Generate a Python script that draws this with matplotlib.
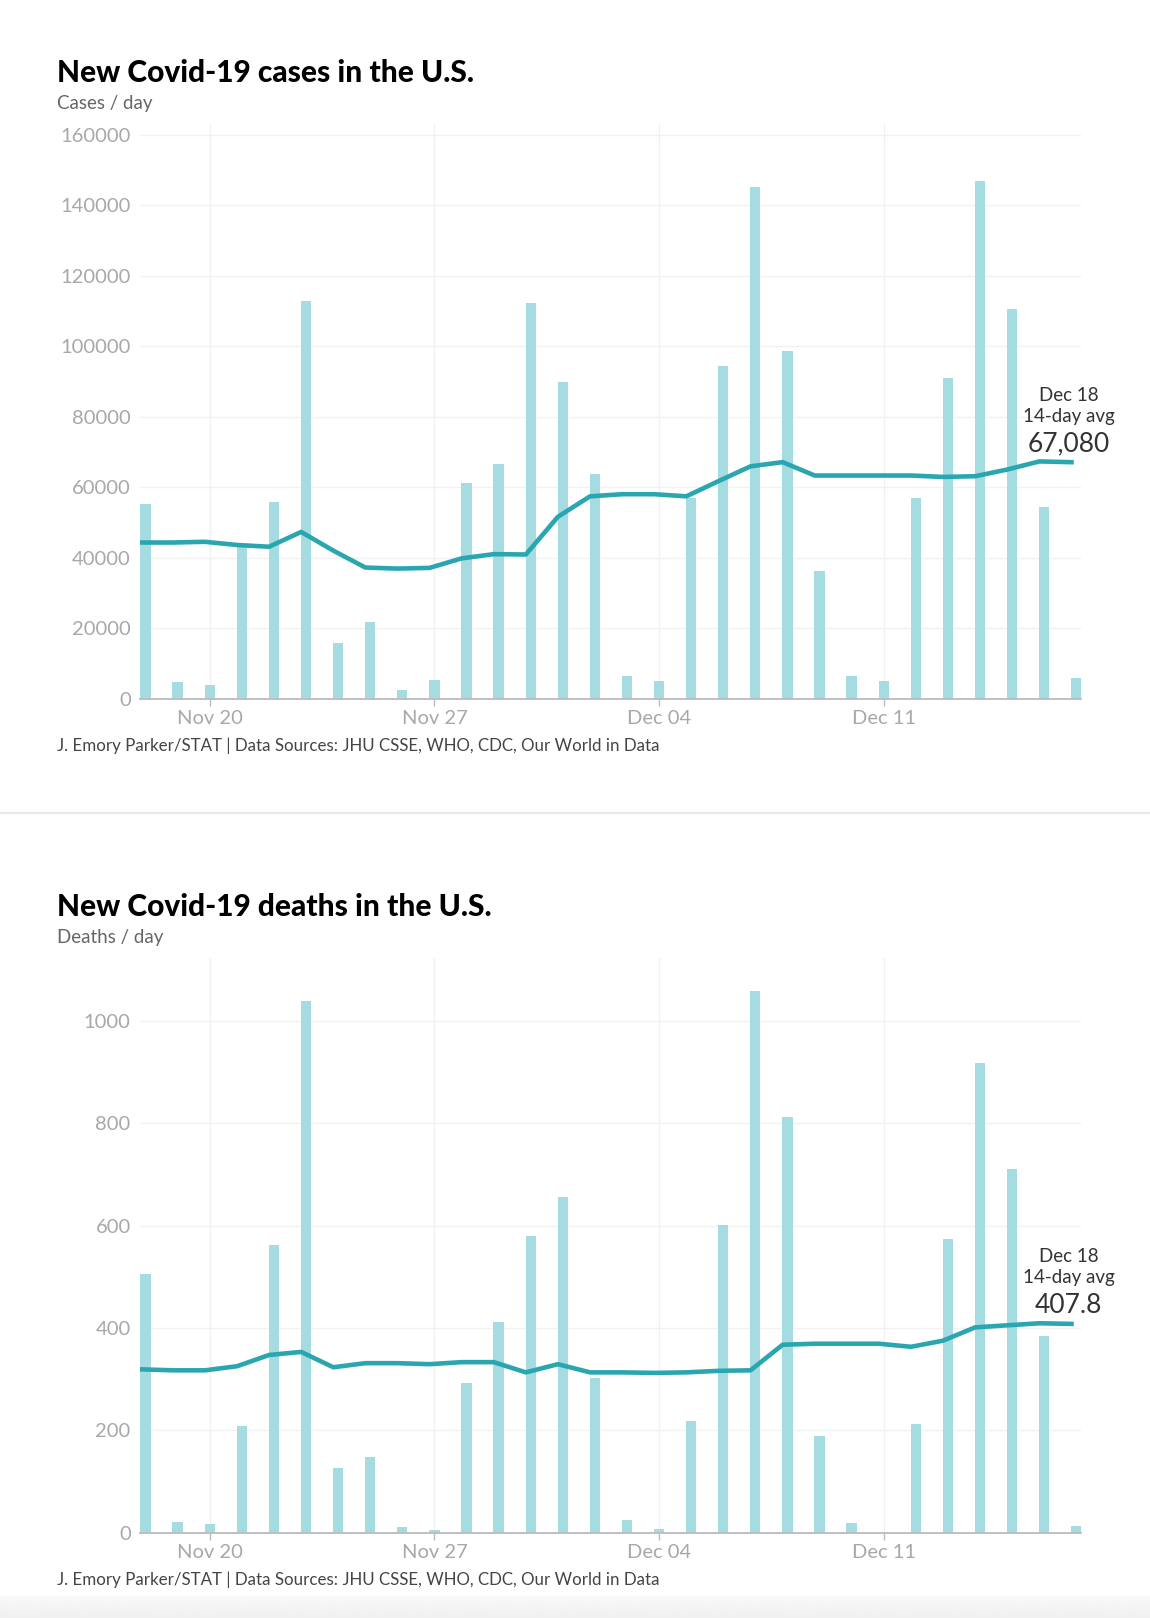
import numpy as np
import pandas as pd
import matplotlib
matplotlib.use("Agg")
import matplotlib.pyplot as plt
from matplotlib.lines import Line2D

plt.rcParams['font.family'] = ['Lato', 'DejaVu Sans']

# days shown on the x axis
dates = pd.date_range("2020-11-18", "2020-12-17")
tick_days = ["2020-11-20", "2020-11-27", "2020-12-04", "2020-12-11"]
last_label = "Dec 18"

# new cases per day and the 14-day average
cases = [55100, 4700, 3800, 43100, 55700, 112800, 15800, 21700, 2600, 5300,
         61200, 66500, 112200, 89700, 63600, 6400, 5000, 56800, 94400, 145000,
         98500, 36300, 6400, 5000, 56800, 91100, 146800, 110500, 54500, 5900]
cases_avg = [44300, 44300, 44500, 43600, 43100, 47300, 42000, 37200, 36900, 37100,
             39800, 41000, 40900, 51600, 57400, 58000, 58000, 57400, 61700, 65900,
             67100, 63300, 63300, 63300, 63300, 62900, 63100, 65000, 67300, 67080]

# new deaths per day and the 14-day average
deaths = [506, 20, 16, 208, 562, 1038, 127, 147, 10, 4,
          292, 411, 579, 655, 302, 24, 6, 217, 601, 1058,
          812, 189, 18, 0, 212, 573, 917, 711, 385, 12]
deaths_avg = [319, 317, 317, 325, 347, 353, 323, 331, 331, 329,
              333, 333, 313, 329, 313, 313, 312, 313, 316, 317,
              367, 369, 369, 369, 363, 375, 401, 405, 409, 407.8]

BAR = "#a5dce2"
LINE = "#2aa6b0"
W, H = 1150, 1618

fig = plt.figure(figsize=(W / 100, H / 100), dpi=100)
fig.patch.set_facecolor("white")


def px(x, y):
    return x / W, 1 - y / H


def panel(top_px, bottom_px, daily, avg, yticks, ytop, title, unit, value_txt):
    l, b = px(140.4, bottom_px)
    _, t = px(0, top_px)
    ax = fig.add_axes([l, b, 941 / W, t - b])
    x = np.arange(len(dates))
    ax.bar(x, daily, width=0.32, color=BAR, zorder=2)
    ax.plot(x - 0.15, avg, color=LINE, lw=3.3, zorder=3, solid_joinstyle="round")
    ax.set_xlim(-0.16, len(dates) - 1 + 0.16)
    ax.set_ylim(0, ytop)
    ticks = dates.get_indexer(pd.to_datetime(tick_days))
    ax.set_xticks(ticks)
    ax.set_xticklabels(dates[ticks].strftime("%b %d"))
    ax.set_yticks(yticks)
    ax.set_yticklabels([str(v) for v in yticks])
    ax.tick_params(axis="y", length=0, pad=7, labelsize=14.5, labelcolor="#a8a8a8")
    ax.tick_params(axis="x", length=5, width=1, color="#bbbbbb", pad=3,
                   labelsize=14.5, labelcolor="#a8a8a8")
    ax.grid(True, color="#f1f1f1", lw=1, zorder=0)
    for s in ["top", "right", "left"]:
        ax.spines[s].set_visible(False)
    ax.spines["bottom"].set_color("#bbbbbb")
    ax.spines["bottom"].set_linewidth(1.3)
    ax.set_axisbelow(True)

    ex, ey = x[-1] - 0.15, avg[-1]
    ax.annotate(value_txt, (ex, ey), xytext=(-3, 18), textcoords="offset pixels",
                ha="center", va="center", fontsize=19, color="#333333")
    ax.annotate("14-day avg", (ex, ey), xytext=(-3, 46), textcoords="offset pixels",
                ha="center", va="center", fontsize=13.5, color="#333333")
    ax.annotate(last_label, (ex, ey), xytext=(-3, 67), textcoords="offset pixels",
                ha="center", va="center", fontsize=13.5, color="#333333")

    tx, ty = px(57, top_px - 42)
    fig.text(tx, ty, title, fontsize=21.5, fontweight="black", color="black",
             va="baseline")
    sx, sy = px(57, top_px - 15)
    fig.text(sx, sy, unit, fontsize=13.5, color="#666666", va="baseline")
    fx, fy = px(57, bottom_px + 47)
    fig.text(fx, fy, "J. Emory Parker/STAT | Data Sources: JHU CSSE, WHO, CDC, Our World in Data",
             fontsize=12.2, color="#444444", va="center")
    return ax


panel(124, 698.7, cases, cases_avg, list(range(0, 160001, 20000)), 163000,
      "New Covid-19 cases in the U.S.", "Cases / day", f"{cases_avg[-1]:,}")
panel(958, 1532.5, deaths, deaths_avg, list(range(0, 1001, 200)), 1123,
      "New Covid-19 deaths in the U.S.", "Deaths / day", f"{deaths_avg[-1]}")

# divider between the two charts
dy = 1 - 813 / H
fig.add_artist(Line2D([0, 1], [dy, dy], transform=fig.transFigure,
                      color="#e9e9e9", lw=1.6))

# grey band at the very bottom
band = fig.add_axes([0, 0, 1, 22 / H])
grad = np.linspace(0.975, 0.94, 50).reshape(-1, 1)
band.imshow(grad, aspect="auto", cmap="gray", vmin=0, vmax=1,
            extent=[0, 1, 0, 1])
band.axis("off")

fig.savefig("out.png", dpi=100)
